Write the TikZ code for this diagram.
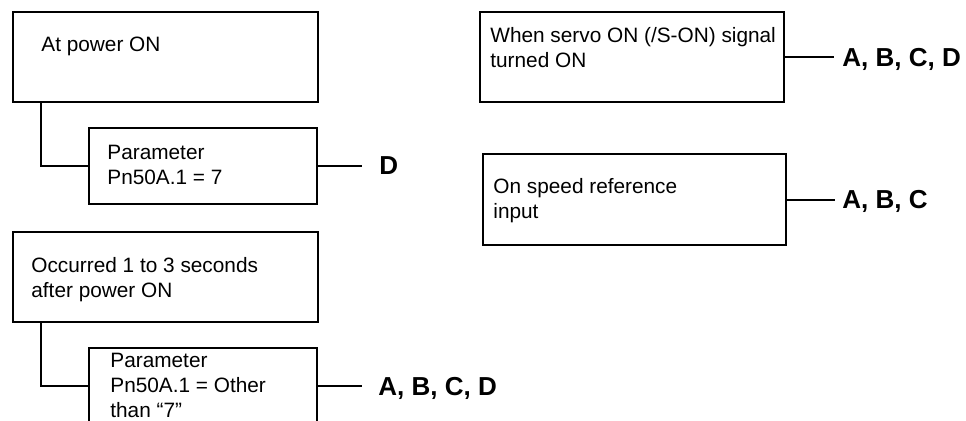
\documentclass[tikz,border=0pt]{standalone}
\usepackage{fontspec}
\setmainfont{Liberation Sans}
\usetikzlibrary{positioning}
\tikzset{
  box/.style={draw, line width=1pt, rectangle, inner sep=0pt, anchor=north west},
  boxtext/.style={anchor=north west, inner sep=0pt, align=left, font=\fontsize{10.4}{12.5}\selectfont},
  result/.style={anchor=west, inner sep=0pt, text depth=0pt, font=\bfseries\fontsize{13}{15}\selectfont},
  wire/.style={line width=1pt}
}
\begin{document}
\begin{tikzpicture}[x=0.5pt,y=-0.5pt]
\useasboundingbox (0,0) rectangle (966,420);
\clip (0,0) rectangle (966,420);

% left column
\node[box, minimum width=152.5pt, minimum height=45pt] (pwr) at (12,11) {};
\node[boxtext] (tpwr) at ([shift={(29,26)}]pwr.north west) {At power ON};

\node[box, minimum width=114pt, minimum height=38pt] (par7) at (88,127) {};
\node[boxtext] (tpar7) at ([shift={(19,18)}]par7.north west) {Parameter\\Pn50A.1 = 7};

\node[box, minimum width=152.5pt, minimum height=45pt] (late) at (12,231) {};
\node[boxtext] (tlate) at ([shift={(19,26)}]late.north west) {Occurred 1 to 3 seconds\\after power ON};

\node[box, minimum width=114pt, minimum height=38pt] (parx) at (88,347) {};
\node[boxtext] (tparx) at ([shift={(22,6)}]parx.north west) {Parameter\\Pn50A.1 = Other\\than “7”};

\draw[wire] ([shift={(29,0)}]pwr.south west) |- (par7.west);
\draw[wire] ([shift={(29,0)}]late.south west) |- (parx.west);

\draw[wire] (par7.east) -- ++(44,0) coordinate (e7);
\node[result, right=8.5pt of e7] (r7) {D};
\draw[wire] (parx.east) -- ++(44,0) coordinate (ex);
\node[result, right=8pt of ex] (rx) {A, B, C, D};

% right column
\node[box, minimum width=152pt, minimum height=45pt] (servo) at (479,11) {};
\node[boxtext] (tservo) at ([shift={(11,16)}]servo.north west) {When servo ON (/S-ON) signal\\turned ON};

\node[box, minimum width=151.5pt, minimum height=45.5pt] (speed) at (482,153) {};
\node[boxtext] (tspeed) at ([shift={(11,25)}]speed.north west) {On speed reference\\input};

\draw[wire] (servo.east) -- ++(49,0) coordinate (es);
\node[result, right=4pt of es] (rs) {A, B, C, D};
\draw[wire] (speed.east) -- ++(48,0) coordinate (ep);
\node[result, right=3.5pt of ep] (rp) {A, B, C};
\end{tikzpicture}
\end{document}
